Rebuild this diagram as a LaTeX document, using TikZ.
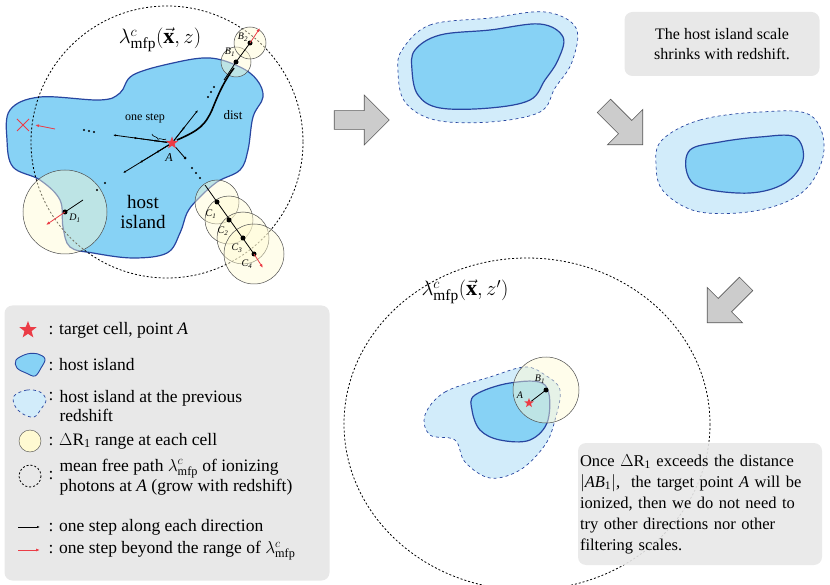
\documentclass[tikz,border=0pt]{standalone}
\usepackage{fontspec}
\setmainfont{Liberation Serif}
\usetikzlibrary{shapes.arrows,shapes.geometric,decorations.pathreplacing,arrows.meta,calc}
\definecolor{isl}{RGB}{135,210,245}
\definecolor{islb}{RGB}{40,70,160}
\definecolor{isll}{RGB}{210,236,250}
\definecolor{yel}{RGB}{255,250,210}
\definecolor{boxg}{RGB}{232,232,232}
\definecolor{redc}{RGB}{235,60,70}
\begin{document}
\begin{tikzpicture}[x=1pt,y=-1pt,
 island/.style={fill=isl,draw=islb,line width=1.2pt},
 previsl/.style={fill=isll,draw=islb,dashed,line width=0.7pt},
 rng/.style={draw=black!70,fill=yel,fill opacity=0.45,line width=0.5pt},
 mfp/.style={draw=black,line width=0.8pt,dash pattern=on 2pt off 2pt},
 pt/.style={circle,fill=black,inner sep=0pt,minimum size=5pt},
 dt/.style={circle,fill=black,inner sep=0pt,minimum size=2.4pt},
 stp/.style={-{Latex[length=3pt]},line width=0.8pt},
 rstp/.style={-{Latex[length=4pt]},line width=0.8pt,redc},
 bigarr/.style={single arrow,draw=gray!70!black,fill=gray!40,minimum height=55pt,minimum width=50pt,single arrow head extend=6pt,line width=0.6pt},
 gbox/.style={fill=boxg,rounded corners=8pt,draw=none},
 lab/.style={font=\itshape\fontsize{10}{10}\selectfont,inner sep=1pt},
 redstar/.style={star,star points=5,star point ratio=2.4,fill=redc,inner sep=0pt,minimum size=13pt}]
\useasboundingbox (0,0) rectangle (830,585);
% ---------- panel 1
\draw[island] plot[smooth cycle,tension=0.6] coordinates{(10,110)(40,97)(100,100)(120,93)(133,75)(173,63)(210,58)(240,67)(257,80)(263,97)(253,117)(248,150)(240,170)(217,182)(197,200)(187,213)(180,233)(167,253)(133,258)(93,253)(70,247)(63,227)(60,200)(40,180)(13,167)(7,140)};
\draw[mfp] (167,142) circle[radius=136];
\node[font=\fontsize{22}{22}\selectfont] (lam1) at (160,40) {$\lambda^{c}_{\mathrm{mfp}}(\vec{\mathbf{x}},z)$};
\foreach \n/\x/\y in {b1/236/62,b2/250/43,c1/217/202,c2/229/220,c3/243/238,c4/254/254,d1/65/212}
  \coordinate (\n) at (\x,\y);
\foreach \n/\r in {b1/15,b2/16,c1/22,c2/24,c3/26,c4/30,d1/42}
  \draw[rng] (\n) circle[radius=\r];
\node[redstar] (A) at (172,143) {};
\node[font=\itshape\fontsize{12}{12}\selectfont] (Al) at (169,158) {A};
\coordinate (e1) at (113,135); \coordinate (e2) at (123,173); \coordinate (e3) at (198,110);
\draw[stp] (A) -- (e1);
\draw[stp] (A) -- ($(A)!0.33!(e1)$);
\draw[stp] (A) -- ($(A)!0.66!(e1)$);
\draw[stp] (A) -- (e2);
\draw[stp] (A) -- ($(A)!0.33!(e2)$);
\draw[stp] (A) -- ($(A)!0.66!(e2)$);
\draw[stp] (A) -- (e3);
\draw[stp] (A) -- ($(A)!0.5!(e3)$);
\draw[line width=0.8pt] (A) -- (185,158);
\node[pt,minimum size=3pt] (p1) at (185,158) {};
\foreach \x/\y in {84/130,89/131,94/132, 192/168,196/173,200/178, 208/97,211/92,214/87, 97/190,105/183}
  \node[dt] at (\x,\y) {};
\draw[line width=0.8pt] (224,80) -- (b1) -- (b2);
\node[pt] (B1) at (b1) {}; \node[pt] (B2) at (b2) {};
\draw[rstp] (b2) -- (260,28);
\node[lab] at (230,52) {B\textsubscript{1}};
\node[lab] at (243,37) {B\textsubscript{2}};
\draw[line width=0.8pt] (205,185) -- (c4);
\foreach \n in {c1,c2,c3,c4} \node[pt] at (\n) {};
\draw[rstp] (c4) -- (263,268);
\node[lab] at (211,214) {C\textsubscript{1}};
\node[lab] at (223,231) {C\textsubscript{2}};
\node[lab] at (237,248) {C\textsubscript{3}};
\node[lab] at (247,264) {C\textsubscript{4}};
\draw[line width=0.8pt] (83,200) -- (d1);
\node[pt] (D1) at (d1) {};
\draw[rstp] (d1) -- (46,225);
\node[lab] at (75,218) {D\textsubscript{1}};
\draw[redc,line width=1pt] (17,119) -- (29,131) (17,131) -- (29,119);
\draw[rstp] (55,129) -- (35,125);
\draw[line width=1.6pt] (177,140) .. controls (200,130) and (205,125) .. (212,110) .. controls (220,90) and (225,80) .. (234,68);
\node[font=\fontsize{13}{13}\selectfont] (dist) at (233,115) {dist};
\draw[decorate,decoration={brace,amplitude=3pt},line width=0.6pt] (166,139) -- (152,134);
\node[font=\fontsize{12}{12}\selectfont] (os) at (145,118) {one step};
\node[font=\fontsize{19}{20}\selectfont,align=center] (hi) at (143,212) {host\\island};
% ---------- arrows
\node[bigarr] (ar1) at (357,120) {};
\node[bigarr,rotate=-45] (ar2) at (620,122) {};
\node[bigarr,rotate=-135] (ar3) at (730,300) {};
% ---------- island 2
\draw[previsl] plot[smooth cycle,tension=0.6] coordinates{(402,50)(430,25)(490,18)(545,12)(576,28)(572,62)(555,88)(540,112)(490,122)(435,120)(405,102)(398,72)};
\draw[island] plot[smooth cycle,tension=0.6] coordinates{(415,50)(440,35)(490,30)(540,24)(563,37)(558,60)(545,80)(530,100)(490,108)(440,108)(418,95)(412,70)};
% ---------- island 3
\draw[previsl] plot[smooth cycle,tension=0.6] coordinates{(662,140)(700,120)(760,112)(810,115)(824,150)(805,190)(760,210)(700,212)(664,192)(656,165)};
\draw[island] plot[smooth cycle,tension=0.6] coordinates{(690,150)(720,142)(760,137)(795,137)(803,160)(785,183)(750,193)(702,188)(687,173)};
\node[gbox,minimum width=195pt,minimum height=64pt] (tb) at (722,44) {};
\node[align=center,font=\fontsize{16}{20}\selectfont] at (tb) {The host island scale\\shrinks with redshift.};
% ---------- bottom panel
\draw[mfp] (527,424) ellipse[x radius=183,y radius=166];
\node[font=\fontsize{22}{22}\selectfont] (lam2) at (465,292) {$\lambda^{c}_{\mathrm{mfp}}(\vec{\mathbf{x}},z')$};
\draw[previsl] plot[smooth cycle,tension=0.6] coordinates{(425,415)(445,392)(490,377)(525,367)(545,375)(560,390)(555,420)(545,445)(520,470)(490,478)(465,462)(455,440)(430,435)};
\draw[island] plot[smooth cycle,tension=0.6] coordinates{(475,395)(510,383)(545,385)(548,420)(530,440)(500,440)(480,430)(472,410)};
\coordinate (sb1) at (546,390);
\draw[rng] (sb1) circle[radius=33];
\node[redstar,minimum size=10pt] (sA) at (529,403) {};
\draw[line width=0.8pt] (sA) -- (sb1);
\node[pt] at (sb1) {};
\node[lab] at (540,379) {B\textsubscript{1}};
\node[lab] at (520,395) {A};
\node[gbox,fill opacity=0.9,minimum width=244pt,minimum height=122pt] (ob) at (700,504) {};
\node[align=left,font=\fontsize{16.5}{21}\selectfont,text width=240pt] at (ob) {Once $\Delta$R\textsubscript{1} exceeds the distance\\$|$\textit{AB}\textsubscript{1}$|$,\ \ the target point \textit{A} will be\\ionized, then we do not need to\\try other directions nor other\\filtering scales.};
% ---------- legend
\node[gbox,minimum width=325pt,minimum height=275pt] (leg) at (167,443) {};
\begin{scope}[every node/.style={anchor=west,font=\fontsize{17.5}{19}\selectfont}]
\node[redstar,minimum size=18pt,anchor=center] (l1) at (28,330) {};
\node (t1) at (45,330) {: target cell, point \textit{A}};
\draw[island,line width=0.9pt] plot[smooth cycle,tension=0.6] coordinates{(16,360)(27,354)(38,354)(45,359)(41,368)(35,376)(26,373)(17,368)};
\node (t2) at (45,365) {: host island};
\draw[previsl] plot[smooth cycle,tension=0.6] coordinates{(14,396)(27,390)(40,392)(46,400)(41,409)(34,417)(23,414)(15,406)};
\node (t3) at (45,397) {:};
\node[align=left] (t3b) at (56,406) {host island at the previous\\redshift};
\draw[draw=black!70,fill=yel] (30,441) circle[radius=11];
\node (t4) at (45,441) {: $\Delta$R\textsubscript{1} range at each cell};
\draw[mfp] (30,476) circle[radius=11];
\node (t5) at (45,476) {:};
\node[align=left] (t5b) at (56,477) {mean free path $\lambda^{c}_{\mathrm{mfp}}$ of ionizing\\photons at \textit{A} (grow with redshift)};
\coordinate (l6a) at (18,527); \coordinate (l6b) at (40,527);
\draw[stp] (l6a) -- (l6b);
\node (t6) at (45,527) {: one step along each direction};
\coordinate (l7a) at (18,550); \coordinate (l7b) at (40,550);
\draw[rstp] (l7a) -- (l7b);
\node (t7) at (45,551) {: one step beyond the range of $\lambda^{c}_{\mathrm{mfp}}$};
\end{scope}
\end{tikzpicture}
\end{document}
